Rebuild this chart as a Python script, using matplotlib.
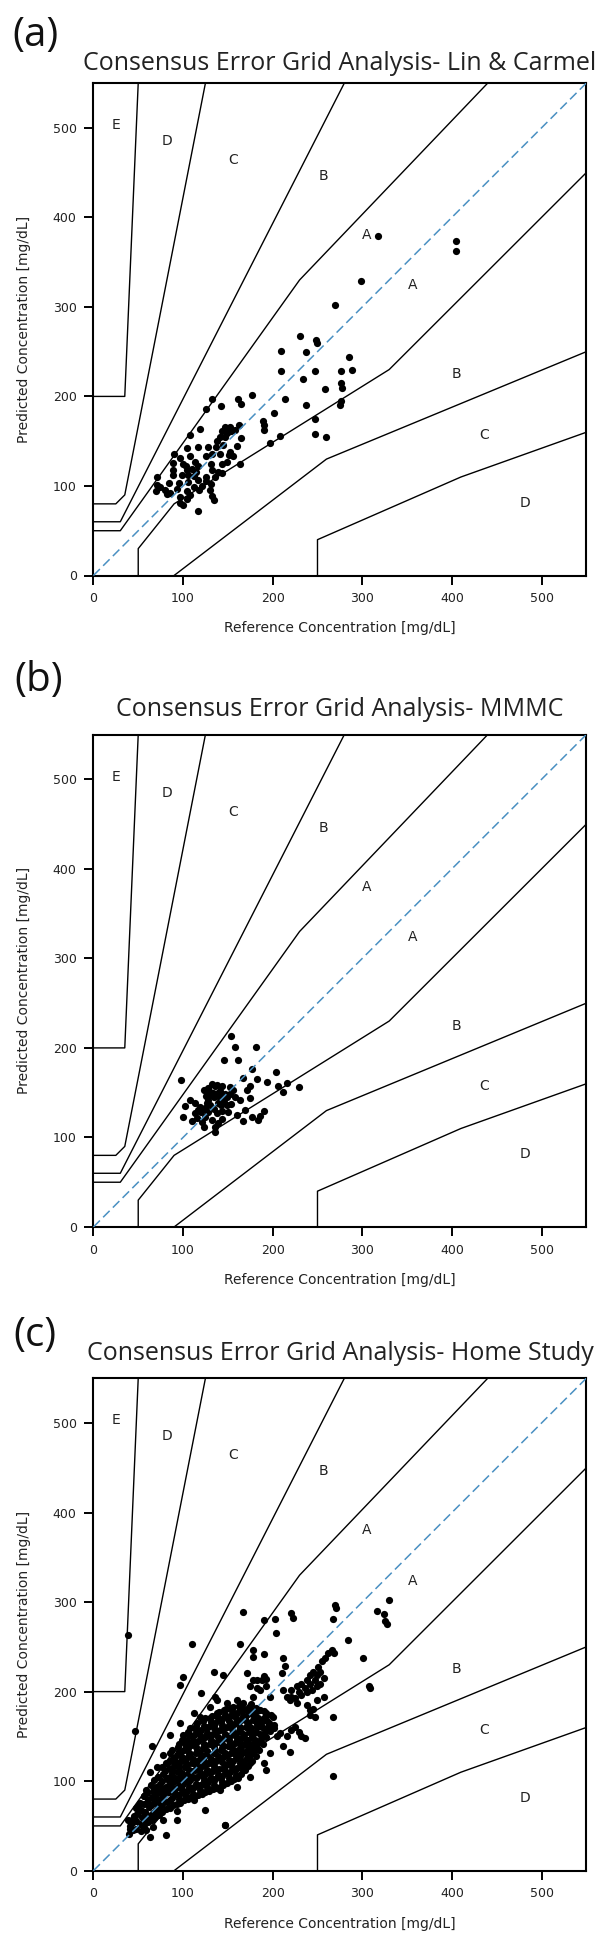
import numpy as np
import matplotlib.pyplot as plt

# Consensus error grid boundaries (mg/dL)
ab_up_x = [0, 30, 230, 440]
ab_up_y = [50, 50, 330, 550]
ab_lo_x = [50, 50, 90, 330, 550]
ab_lo_y = [0, 30, 80, 230, 450]
bc_up_x = [0, 30, 280]
bc_up_y = [60, 60, 550]
bc_lo_x = [90, 260, 550]
bc_lo_y = [0, 130, 250]
cd_up_x = [0, 25, 35, 125]
cd_up_y = [80, 80, 90, 550]
cd_lo_x = [250, 250, 410, 550]
cd_lo_y = [0, 40, 110, 160]
de_up_x = [0, 35, 50]
de_up_y = [200, 200, 550]

zone_txt = ['E', 'D', 'C', 'B', 'A', 'A', 'B', 'C', 'D']
zone_x = [25, 82, 156, 257, 305, 356, 405, 436, 482]
zone_y = [503, 485, 464, 446, 380, 324, 225, 157, 81]

titles = ['Consensus Error Grid Analysis- Lin & Carmel',
          'Consensus Error Grid Analysis- MMMC',
          'Consensus Error Grid Analysis- Home Study']
tags = ['(a)', '(b)', '(c)']

# (reference, predicted) pairs
lin_pts = [(270, 302), (230, 267), (248, 263), (249, 260), (209, 251), (237, 250), (285, 244),
           (209, 228), (247, 228), (276, 228), (288, 229), (234, 219), (276, 215), (277, 209),
           (258, 208), (177, 202), (161, 197), (165, 192), (132, 197), (214, 197), (276, 195),
           (275, 190), (237, 190), (142, 189), (126, 186), (201, 182), (189, 173), (190, 168),
           (190, 163), (247, 175), (208, 156), (247, 158), (259, 155), (197, 148), (119, 164),
           (147, 166), (152, 166), (162, 168), (144, 161), (141, 155), (147, 155), (165, 154),
           (108, 157), (138, 150), (145, 146), (160, 145), (117, 144), (104, 142), (132, 136),
           (141, 136), (151, 135), (90, 136), (108, 133), (126, 133), (156, 133), (89, 126),
           (100, 125), (113, 127), (117, 122), (131, 125), (163, 124), (104, 118), (110, 119),
           (115, 116), (132, 118), (139, 116), (143, 115), (89, 112), (99, 112), (71, 110),
           (112, 111), (126, 110), (136, 110), (117, 107), (71, 101), (84, 103), (96, 103),
           (106, 104), (126, 105), (131, 102), (80, 96), (70, 94), (86, 92), (104, 94), (118, 96),
           (130, 96), (97, 88), (108, 90), (132, 89), (104, 85), (134, 84), (97, 81), (100, 79),
           (117, 72), (82, 91), (74, 99), (93, 97), (112, 99), (121, 100), (106, 112), (89, 118),
           (97, 131), (103, 122), (149, 159), (154, 161), (158, 163), (137, 144), (128, 144),
           (143, 125), (149, 127), (152, 138), (317, 379), (405, 374), (405, 362), (299, 329)]

mmmc_pts = [(153, 213), (158, 201), (181, 201), (146, 186), (161, 187), (98, 164), (177, 176),
            (204, 173), (183, 165), (194, 162), (167, 166), (216, 161), (206, 157), (229, 156),
            (212, 151), (128, 155), (136, 157), (143, 157), (152, 156), (130, 151), (139, 150),
            (147, 149), (156, 153), (171, 153), (175, 144), (158, 145), (164, 142), (126, 146),
            (134, 145), (113, 138), (102, 135), (119, 134), (125, 133), (130, 136), (139, 138),
            (149, 136), (154, 137), (169, 131), (190, 129), (186, 124), (177, 123), (160, 125),
            (138, 127), (125, 123), (113, 127), (100, 123), (110, 118), (121, 117), (132, 120),
            (143, 121), (167, 118), (184, 120), (123, 112), (136, 112), (139, 116), (136, 106),
            (108, 142), (123, 153), (132, 160), (138, 159), (149, 145), (128, 142), (141, 144),
            (117, 131), (175, 157), (133, 150), (137, 148), (141, 152), (145, 146), (130, 147),
            (127, 138), (134, 132), (144, 130), (150, 128), (120, 128), (116, 122), (128, 128),
            (146, 140), (152, 148), (142, 136)]

home_out = [(39, 263), (46, 156), (167, 289), (221, 288), (223, 282), (190, 280), (203, 281),
            (270, 297), (271, 293), (267, 281), (330, 302), (316, 290), (324, 287), (327, 276),
            (325, 279), (204, 265), (110, 253), (163, 253), (178, 247), (178, 239), (190, 242),
            (284, 258), (266, 247), (268, 243), (301, 238), (212, 237), (214, 229), (210, 221),
            (171, 221), (135, 222), (145, 218), (100, 216), (97, 207), (120, 199), (307, 206),
            (309, 204), (267, 172), (267, 106), (147, 51), (81, 40), (125, 68), (93, 57), (93, 67),
            (65, 139), (63, 110), (86, 152), (136, 194), (193, 214), (182, 204)]

home_band = [(216, 194), (221, 202), (227, 206), (232, 209), (238, 213), (242, 219), (245, 222),
             (251, 228), (255, 234), (258, 237), (262, 243), (219, 191), (225, 193), (232, 196),
             (238, 200), (244, 202), (249, 206), (253, 209), (257, 215), (227, 187), (212, 202),
             (242, 180), (245, 181), (249, 191), (257, 194), (238, 185), (229, 200), (236, 204),
             (247, 213), (242, 209), (253, 222), (249, 219), (221, 194), (225, 161), (232, 150),
             (219, 133), (212, 139), (197, 131), (205, 150), (193, 113), (242, 174), (247, 172),
             (221, 157), (229, 155), (236, 148), (201, 159), (208, 154), (216, 150)]

home_edge = [(147, 51), (112, 79), (141, 90), (160, 94), (175, 105), (190, 120), (78, 57), (67, 49),
             (59, 46), (54, 53), (41, 47), (46, 57), (63, 38), (78, 129), (71, 116), (59, 90),
             (56, 83), (50, 72), (43, 57), (97, 165), (112, 176), (119, 172), (130, 183), (138, 191),
             (149, 187), (160, 191), (167, 187), (178, 194), (186, 202), (193, 206), (197, 194),
             (175, 206), (182, 213), (188, 213), (190, 217), (178, 213)]

home_core = [(40, 41), (41, 50), (39, 57), (44, 45), (43, 53), (45, 61), (48, 47), (47, 56),
             (49, 63), (48, 70), (53, 44), (52, 52), (54, 60), (53, 68), (52, 76), (57, 49),
             (56, 58), (58, 65), (57, 74), (56, 83), (61, 54), (60, 62), (62, 71), (61, 79),
             (60, 87), (65, 57), (66, 64), (64, 73), (65, 82), (66, 89), (64, 96), (69, 60),
             (70, 68), (68, 76), (69, 85), (70, 93), (68, 101), (73, 62), (74, 71), (72, 80),
             (73, 88), (74, 97), (72, 105), (77, 66), (76, 74), (78, 83), (77, 91), (76, 100),
             (78, 108), (77, 116), (81, 69), (82, 77), (80, 86), (81, 94), (82, 103), (80, 111),
             (81, 120), (85, 70), (86, 79), (84, 88), (85, 97), (86, 105), (84, 115), (85, 123),
             (86, 131), (89, 73), (88, 81), (90, 90), (89, 99), (88, 109), (90, 117), (89, 126),
             (88, 135), (93, 75), (94, 84), (92, 92), (93, 102), (94, 110), (92, 120), (93, 129),
             (94, 138), (97, 76), (96, 85), (98, 94), (97, 104), (96, 113), (98, 122), (97, 132),
             (96, 141), (101, 79), (102, 87), (100, 97), (101, 106), (102, 116), (100, 125),
             (101, 135), (102, 143), (100, 151), (105, 80), (104, 89), (106, 99), (105, 108),
             (104, 118), (106, 127), (105, 137), (104, 146), (106, 155), (109, 82), (110, 91),
             (108, 101), (109, 111), (110, 120), (108, 130), (109, 140), (110, 150), (108, 159),
             (113, 83), (112, 93), (114, 103), (113, 113), (112, 122), (114, 132), (113, 142),
             (112, 152), (114, 162), (117, 85), (118, 95), (116, 105), (117, 115), (118, 124),
             (116, 134), (117, 145), (118, 155), (116, 165), (121, 86), (120, 96), (122, 106),
             (121, 117), (120, 127), (122, 137), (121, 147), (120, 157), (122, 167), (125, 88),
             (126, 98), (124, 108), (125, 118), (126, 129), (124, 139), (125, 149), (126, 159),
             (124, 170), (129, 89), (128, 99), (130, 109), (129, 120), (128, 130), (130, 141),
             (129, 151), (128, 161), (130, 171), (133, 91), (134, 101), (132, 111), (133, 122),
             (134, 132), (132, 142), (133, 153), (134, 163), (132, 173), (137, 92), (136, 102),
             (138, 113), (137, 123), (136, 134), (138, 144), (137, 155), (136, 165), (138, 176),
             (141, 94), (142, 104), (140, 114), (141, 125), (142, 135), (140, 146), (141, 157),
             (142, 167), (140, 177), (145, 96), (144, 106), (146, 116), (145, 127), (144, 137),
             (146, 148), (145, 158), (144, 169), (146, 179), (149, 98), (150, 108), (148, 118),
             (149, 129), (150, 139), (148, 150), (149, 160), (150, 171), (148, 181), (153, 100),
             (152, 110), (154, 120), (153, 131), (152, 141), (154, 152), (153, 162), (152, 173),
             (154, 182), (157, 102), (158, 112), (156, 122), (157, 133), (158, 143), (156, 154),
             (157, 164), (158, 174), (156, 183), (161, 104), (160, 115), (162, 125), (161, 135),
             (160, 146), (162, 156), (161, 166), (160, 176), (162, 184), (165, 108), (166, 118),
             (164, 128), (165, 138), (166, 148), (164, 158), (165, 168), (166, 178), (164, 186),
             (169, 112), (168, 122), (170, 131), (169, 141), (168, 151), (170, 161), (169, 171),
             (168, 181), (173, 117), (174, 127), (172, 136), (173, 146), (174, 155), (172, 165),
             (173, 175), (174, 183), (177, 122), (176, 131), (178, 141), (177, 150), (176, 159),
             (178, 168), (177, 178), (176, 186), (181, 128), (182, 137), (180, 146), (181, 155),
             (182, 164), (180, 173), (181, 182), (185, 135), (184, 144), (186, 153), (185, 162),
             (184, 171), (186, 180), (189, 142), (190, 151), (188, 160), (189, 169), (190, 178),
             (193, 149), (192, 158), (194, 167), (193, 176), (197, 156), (196, 165), (198, 174),
             (201, 163), (200, 172)]

home_fill = [(91, 86), (91, 104), (91, 122), (95, 80), (95, 98), (95, 117), (95, 134), (99, 90),
             (99, 109), (99, 127), (99, 146), (103, 83), (103, 101), (103, 120), (103, 139),
             (107, 93), (107, 113), (107, 132), (107, 151), (111, 86), (111, 105), (111, 125),
             (111, 145), (115, 97), (115, 118), (115, 138), (115, 157), (119, 90), (119, 110),
             (119, 131), (119, 151), (123, 101), (123, 122), (123, 142), (123, 162), (127, 93),
             (127, 113), (127, 134), (127, 154), (131, 104), (131, 125), (131, 146), (131, 166),
             (135, 96), (135, 117), (135, 138), (135, 159), (139, 107), (139, 128), (139, 149),
             (139, 170), (143, 99), (143, 121), (143, 142), (143, 163), (147, 111), (147, 132),
             (147, 153), (147, 174), (151, 103), (151, 124), (151, 146), (151, 167), (155, 116),
             (155, 137), (155, 158), (155, 178), (159, 107), (159, 128), (159, 150), (159, 170),
             (163, 120), (163, 141), (163, 161), (163, 181), (167, 113), (167, 133), (167, 153),
             (167, 173), (171, 126), (171, 146), (171, 166), (175, 120), (175, 140), (175, 160),
             (175, 179), (179, 135), (179, 154), (179, 173), (183, 141), (183, 160), (183, 178),
             (187, 147), (187, 165), (191, 155), (191, 172), (195, 160), (80, 90), (76, 80),
             (72, 74), (68, 64), (84, 100), (88, 112), (63, 60), (58, 54), (87, 94)]

home_pts = home_out + home_band + home_edge + home_core + home_fill
panels = [lin_pts, mmmc_pts, home_pts]

plt.rcParams['font.family'] = 'DejaVu Sans'
fig = plt.figure(figsize=(6.1, 19.41), dpi=100)

ax_left = 93.4 / 610
ax_w = 493 / 610
ax_h = 492.5 / 1941
bottoms_px = [575.5, 1227, 1870.7]
title_px = [63, 710, 1353]
tag_px = [(36, 36), (39, 681), (35, 1336)]

for i in range(3):
    ax = fig.add_axes([ax_left, 1 - bottoms_px[i] / 1941, ax_w, ax_h])
    for xs, ys in [(ab_up_x, ab_up_y), (ab_lo_x, ab_lo_y), (bc_up_x, bc_up_y),
                   (bc_lo_x, bc_lo_y), (cd_up_x, cd_up_y), (cd_lo_x, cd_lo_y),
                   (de_up_x, de_up_y)]:
        ax.plot(xs, ys, '-', color='black', lw=1.0, zorder=2)
    for t, x, y in zip(zone_txt, zone_x, zone_y):
        ax.text(x, y, t, ha='center', va='center', fontsize=10, color='#222222')

    ref = np.array([p[0] for p in panels[i]])
    pred = np.array([p[1] for p in panels[i]])
    ax.plot(ref, pred, 'o', color='black', ms=5.2, mew=0, zorder=3)
    ax.plot([0, 550], [0, 550], color='#4a90c2', lw=1.1, dashes=(6, 3), zorder=4)

    ax.set_xlim(0, 550)
    ax.set_ylim(0, 550)
    ax.set_xticks(range(0, 501, 100))
    ax.set_yticks(range(0, 501, 100))
    ax.tick_params(direction='out', length=6.5, width=1.4, pad=5.5, labelsize=9,
                   labelcolor='#222222')
    for s in ax.spines.values():
        s.set_linewidth(1.5)
    ax.set_xlabel('Reference Concentration [mg/dL]', fontsize=10, color='#222222')
    ax.set_ylabel('Predicted Concentration [mg/dL]', fontsize=10, color='#222222')
    ax.xaxis.set_label_coords(0.5, -0.093)
    ax.yaxis.set_label_coords(-0.127, 0.5)

    fig.text(340 / 610, 1 - title_px[i] / 1941, titles[i], ha='center', va='center',
             fontsize=18, family='Open Sans', color='#222222')
    fig.text(tag_px[i][0] / 610, 1 - tag_px[i][1] / 1941, tags[i], ha='center', va='center',
             fontsize=29, family='Open Sans', color='#111111')

fig.savefig('out.png', dpi=100)
